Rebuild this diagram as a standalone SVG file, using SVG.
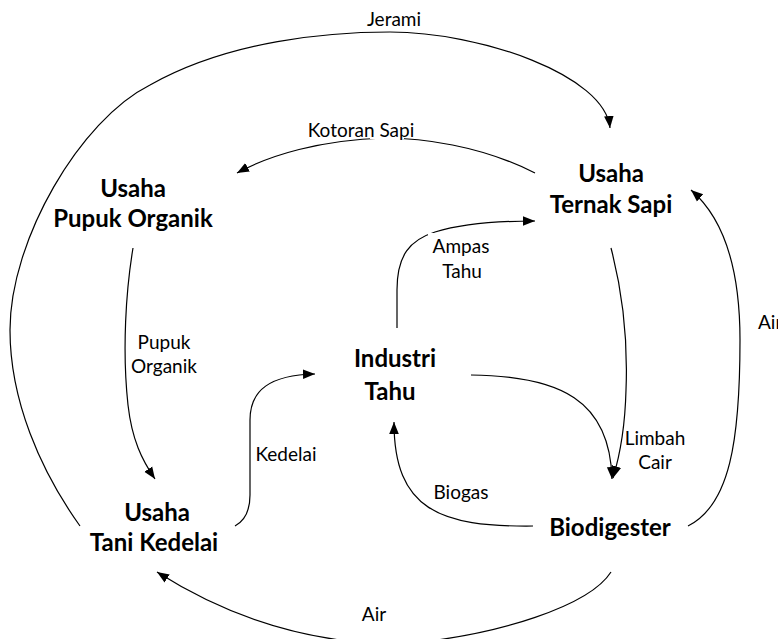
<svg xmlns="http://www.w3.org/2000/svg" width="778" height="639" viewBox="0 0 778 639">
<style>
.c{fill:none;stroke:#000;stroke-width:1.2}
.t{font-family:Lato,"Liberation Sans",sans-serif;font-weight:bold;font-size:24px;fill:#000;text-anchor:middle}
.l{font-family:Lato,"Liberation Sans",sans-serif;font-size:19px;fill:#000;text-anchor:middle}
.bg{fill:#fff}
</style>
<defs>
<marker id="ah" markerUnits="userSpaceOnUse" markerWidth="12" markerHeight="12" viewBox="0 0 10 10" refX="10" refY="5" orient="auto">
<path d="M0,1 L10,5 L0,9 Z" fill="#000"/>
</marker>
</defs>
<rect width="778" height="639" fill="#fff"/>
<g id="connectors">
<path class="c" marker-end="url(#ah)" d="M80,526 C40,470 10,400 10,330 C10,240 80,120 150,85 C230,40 330,32 390,32 C480,32 605,75 610,128"/>
<path class="c" marker-end="url(#ah)" d="M535,173 C480,145 420,138 385,138 C320,140 270,155 237,173"/>
<path class="c" marker-end="url(#ah)" d="M133,248 C126,290 122,350 128,405 C132,440 142,460 155,479"/>
<path class="c" marker-end="url(#ah)" d="M235,526 C246,520 250,510 250,495 L250,420 C250,390 270,375 315,374"/>
<path class="c" marker-end="url(#ah)" d="M397,328 L397,290 C397,255 410,240 435,232 C465,223 500,221 535,221"/>
<path class="c" marker-end="url(#ah)" d="M471,375 C560,376 610,400 612,479"/>
<path class="c" marker-end="url(#ah)" d="M611,248 C622,290 628,340 626,390 C625,430 620,455 613,478"/>
<path class="c" marker-end="url(#ah)" d="M533,526 C440,527 394,510 394,422"/>
<path class="c" marker-end="url(#ah)" d="M688,526 C730,505 740,440 740,340 C740,260 720,215 691,190"/>
<path class="c" marker-end="url(#ah)" d="M611,572 C590,605 500,636 400,644 C300,644 220,612 157,572"/>
</g>
<g id="labels">
<text class="l" x="394" y="26">Jerami</text>
<rect class="bg" x="370" y="118" width="34" height="21"/>
<text class="l" x="361" y="137">Kotoran Sapi</text>
<rect class="bg" x="428" y="233" width="66" height="50"/>
<text class="l" x="461" y="253">Ampas</text>
<text class="l" x="462" y="278">Tahu</text>
<text class="l" x="164" y="349">Pupuk</text>
<text class="l" x="164" y="373">Organik</text>
<text class="l" x="286" y="461">Kedelai</text>
<text class="l" x="655" y="445">Limbah</text>
<text class="l" x="655" y="469">Cair</text>
<text class="l" x="461" y="499">Biogas</text>
<text class="l" x="758" y="329" style="text-anchor:start">Air</text>
<text class="l" x="374" y="621">Air</text>
</g>
<g id="node-pupuk">
<text class="t" x="133" y="197">Usaha</text>
<text class="t" x="133" y="227">Pupuk Organik</text>
</g>
<g id="node-ternak">
<text class="t" x="611" y="182">Usaha</text>
<text class="t" x="611" y="213">Ternak Sapi</text>
</g>
<g id="node-industri">
<text class="t" x="395" y="367">Industri</text>
<text class="t" x="390" y="400">Tahu</text>
</g>
<g id="node-tani">
<text class="t" x="157" y="521">Usaha</text>
<text class="t" x="154" y="551">Tani Kedelai</text>
</g>
<g id="node-biodigester">
<text class="t" x="610" y="536">Biodigester</text>
</g>
</svg>
